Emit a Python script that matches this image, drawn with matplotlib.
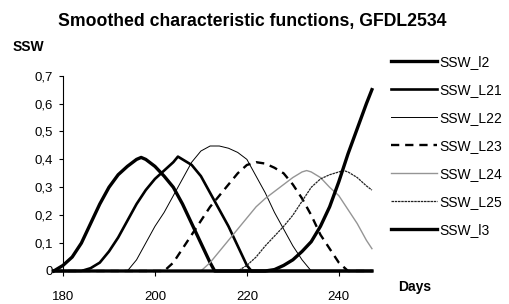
import matplotlib
matplotlib.use("Agg")
import matplotlib.pyplot as plt

plt.rcParams['font.family'] = ['Liberation Sans', 'DejaVu Sans']

# series: days and smoothed characteristic function values
days_l2 = [178, 180, 182, 184, 186, 188, 190, 192, 194, 196, 197, 198, 200, 202, 204, 206, 208, 210, 212, 213, 247.2]
ssw_l2 = [0, 0.02, 0.05, 0.10, 0.17, 0.24, 0.30, 0.345, 0.375, 0.40, 0.407, 0.40, 0.375, 0.34, 0.30, 0.24, 0.17, 0.10, 0.03, 0, 0]

days_l21 = [178, 184, 186, 188, 190, 192, 194, 196, 198, 200, 202, 204, 205, 206, 208, 210, 212, 214, 216, 218, 220, 221, 247.2]
ssw_l21 = [0, 0, 0.01, 0.03, 0.07, 0.12, 0.18, 0.24, 0.29, 0.33, 0.36, 0.39, 0.41, 0.40, 0.38, 0.34, 0.28, 0.22, 0.16, 0.09, 0.02, 0, 0]

days_l22 = [178, 194, 196, 198, 200, 202, 204, 206, 208, 210, 212, 214, 216, 218, 220, 222, 224, 226, 228, 230, 232, 234, 247.2]
ssw_l22 = [0, 0, 0.04, 0.10, 0.16, 0.21, 0.27, 0.33, 0.39, 0.43, 0.448, 0.448, 0.44, 0.425, 0.40, 0.34, 0.28, 0.21, 0.15, 0.09, 0.04, 0, 0]

days_l23 = [178, 202, 204, 206, 208, 210, 212, 214, 216, 218, 220, 222, 224, 226, 228, 230, 232, 234, 236, 238, 240, 242, 247.2]
ssw_l23 = [0, 0, 0.03, 0.08, 0.13, 0.18, 0.23, 0.27, 0.31, 0.35, 0.38, 0.39, 0.385, 0.37, 0.35, 0.31, 0.26, 0.20, 0.13, 0.08, 0.03, 0, 0]

days_l24 = [178, 210, 212, 214, 216, 218, 220, 222, 224, 226, 228, 230, 232, 233, 234, 236, 238, 240, 242, 244, 246, 247.2]
ssw_l24 = [0, 0, 0.03, 0.07, 0.11, 0.15, 0.19, 0.23, 0.26, 0.285, 0.31, 0.335, 0.355, 0.36, 0.355, 0.335, 0.30, 0.27, 0.22, 0.17, 0.11, 0.08]

days_l25 = [178, 218, 220, 222, 224, 226, 228, 230, 232, 234, 236, 238, 240, 241, 242, 244, 246, 247.2]
ssw_l25 = [0, 0, 0.02, 0.05, 0.09, 0.125, 0.16, 0.20, 0.25, 0.30, 0.33, 0.345, 0.355, 0.36, 0.355, 0.335, 0.305, 0.29]

days_l3 = [178, 224, 226, 228, 230, 232, 234, 236, 238, 240, 242, 244, 246, 247.2]
ssw_l3 = [0, 0, 0.005, 0.02, 0.04, 0.07, 0.105, 0.16, 0.23, 0.32, 0.42, 0.51, 0.60, 0.65]

x_ticks = [180, 200, 220, 240]
y_ticks = [0, 0.1, 0.2, 0.3, 0.4, 0.5, 0.6, 0.7]
y_tick_labels = ['0', '0,1', '0,2', '0,3', '0,4', '0,5', '0,6', '0,7']

fig = plt.figure(figsize=(5.09, 3.04), dpi=100)
ax = fig.add_axes([0.1057, 0.1086, 0.625, 0.6424])

ax.plot(days_l2, ssw_l2, color='black', lw=2.4, label='SSW_l2', clip_on=False)
ax.plot(days_l21, ssw_l21, color='black', lw=1.9, label='SSW_L21', clip_on=False)
ax.plot(days_l22, ssw_l22, color='black', lw=0.7, label='SSW_L22', clip_on=False)
ax.plot(days_l23, ssw_l23, color='black', lw=1.7, ls=(0, (3.5, 2.5)), label='SSW_L23', clip_on=False)
ax.plot(days_l24, ssw_l24, color='#959595', lw=1.0, label='SSW_L24', clip_on=False)
ax.plot(days_l25, ssw_l25, color='#222222', lw=0.9, ls=(0, (2, 0.6)), label='SSW_L25', clip_on=False)
ax.plot(days_l3, ssw_l3, color='black', lw=2.4, label='SSW_l3', clip_on=False)

ax.set_xlim(178, 247.2)
ax.set_ylim(0, 0.7)
ax.spines['top'].set_visible(False)
ax.spines['right'].set_visible(False)
ax.spines['left'].set_position(('data', 180))
ax.spines['left'].set_linewidth(0.8)
ax.spines['bottom'].set_linewidth(0.8)

ax.set_xticks(x_ticks)
ax.set_yticks(y_ticks)
ax.set_yticklabels(y_tick_labels)
ax.tick_params(axis='x', direction='out', length=3.5, width=0.8, pad=11, labelsize=9.5)
ax.tick_params(axis='y', direction='out', length=3, width=0.8, pad=4, labelsize=9.5)

fig.text(0.495, 0.93, 'Smoothed characteristic functions, GFDL2534',
         ha='center', va='center', fontsize=12.7, fontweight='bold')
fig.text(0.024, 0.845, 'SSW', ha='left', va='center', fontsize=10, fontweight='bold')
fig.text(0.783, 0.056, 'Days', ha='left', va='center', fontsize=10, fontweight='bold')

fig.legend(loc='upper left', bbox_to_anchor=(0.768, 0.818), frameon=False,
           fontsize=10, handlelength=3.3, handletextpad=0.2, labelspacing=1.0,
           borderaxespad=0, borderpad=0)

fig.savefig('out.png', dpi=100)
